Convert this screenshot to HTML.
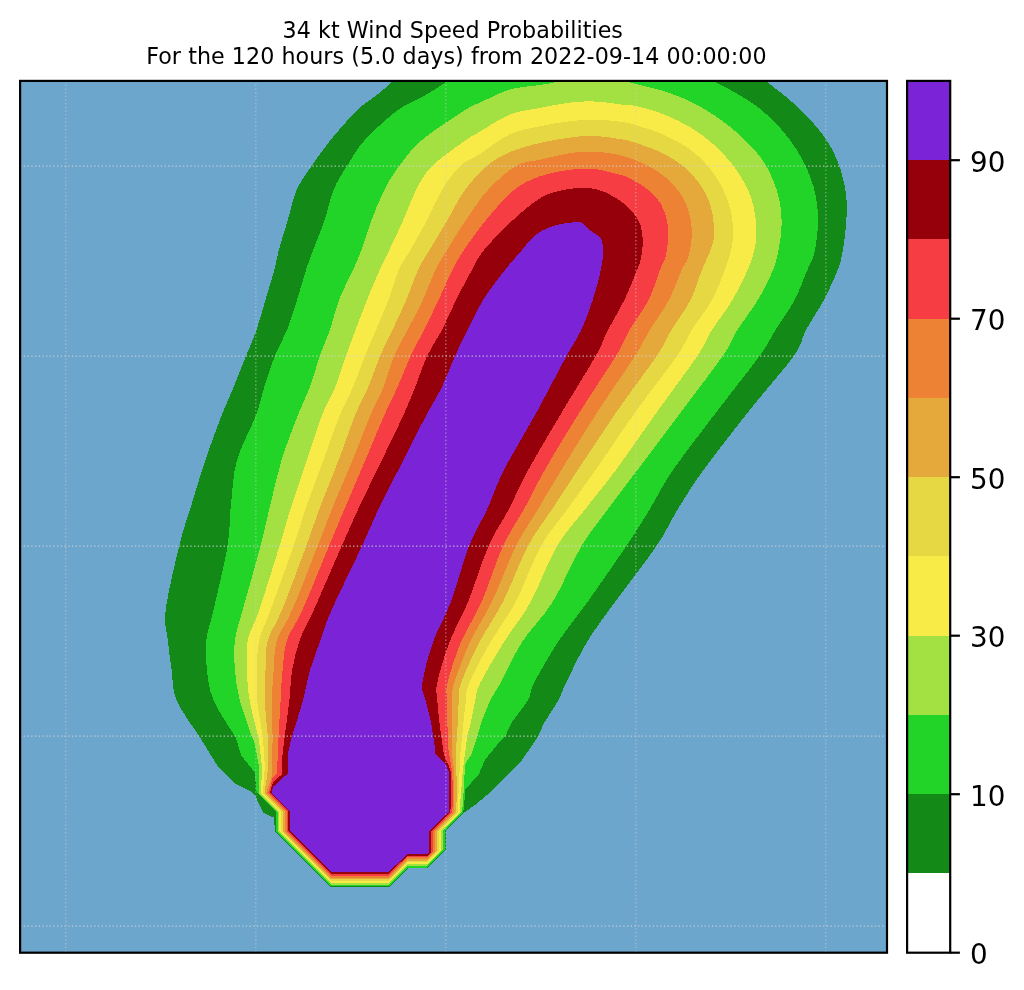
<!DOCTYPE html>
<html lang="en"><head><meta charset="utf-8"><title>34 kt Wind Speed Probabilities</title>
<style>html,body{margin:0;padding:0;background:#fff;}body{width:1024px;height:990px;overflow:hidden;position:relative;}svg{position:absolute;left:0;top:0;display:block;}text{font-family:"DejaVu Sans","Liberation Sans",sans-serif;fill:#000;}.ttl{font-size:22.22px;}.tick{font-size:27.78px;}</style></head><body>
<svg width="1024" height="990" viewBox="0 0 1024 990">
<defs><clipPath id="axclip"><rect x="20.1" y="80.9" width="866.9" height="871.8"/></clipPath></defs>
<text class="ttl" x="282.6" y="37.6" textLength="340.3" lengthAdjust="spacing">34 kt Wind Speed Probabilities</text>
<text class="ttl" x="146.2" y="64.3" textLength="620.4" lengthAdjust="spacing">For the 120 hours (5.0 days) from 2022-09-14 00:00:00</text>
<rect x="20.1" y="80.9" width="866.9" height="871.8" fill="#6ca6cd" shape-rendering="crispEdges"/>
<g clip-path="url(#axclip)" shape-rendering="crispEdges">
<path d="M464.1 812.7 L445.7 831 L445.7 849.6 L427 868.4 L407.8 868.4 L389 887.1 L330.9 887.1 L274.8 831 L274.2 817.8 L263.3 812.7 L259.2 804.6 L256.2 797.6 L255.2 795.6 L251 791.4 L235 783.4 L217 765 L199 736 L199 736 C195.2 730 181.1 711 176.5 700 C171.9 689 173 680 171.6 670 C170.2 660 168.8 650 167.8 640 C166.8 630 163.8 625.7 165.7 610 C167.6 594.3 174.9 563.7 179.2 546 C183.5 528.3 187.3 518.3 191.7 504 C196.1 489.7 200.4 474.7 205.4 460 C210.4 445.3 216.6 428.3 221.4 416 C226.2 403.7 229.9 396 234 386 C238.1 376 242.2 365.3 246 356 C249.8 346.7 253.3 339.3 256.5 330 C259.7 320.7 262.4 310 265.4 300 C268.4 290 272.1 278.3 274.3 270 C276.6 261.7 276.6 258.3 278.9 250 C281.1 241.7 284.8 230 287.8 220 C290.8 210 292.7 199 296.7 190 C300.7 181 306 174.3 311.6 166 C317.2 157.7 323 149.3 330.6 140 C338.2 130.7 349.5 117.6 357.3 110 C365.1 102.4 371.6 99.3 377.5 94.5 C383.4 89.7 389.2 84.4 393 81 C396.8 77.6 338.8 75.2 400 74 C461.2 72.8 699 72.8 760 74 C821 75.2 761.3 77 765.9 81 C770.5 85 780.9 92.4 787.7 98.2 C794.5 104 800.5 109.2 806.9 116 C813.3 122.8 821 132 826 139.3 C831 146.6 834 152.8 837 159.8 C840 166.9 842.2 174.3 843.8 181.6 C845.4 188.9 846.5 195.8 846.8 203.5 C847.1 211.2 846.4 219.8 845.7 228 C845 236.2 843.7 245.7 842.4 252.7 C841.1 259.7 840.8 262.1 837.7 270 C834.6 277.9 829.1 290 823.8 300 C818.5 310 811 320.7 806 330 C801 339.3 803.2 342.7 793.8 356 C784.4 369.3 764.8 391 749.8 410 C734.8 429 715.6 453.3 703.5 470 C691.4 486.7 685.1 497.3 677.3 510 C669.5 522.7 666.9 530.7 656.5 546 C646.1 561.3 626.6 586 615 602 C603.4 618 595.2 628.5 587 642 C578.8 655.5 570.8 673.3 566 683 C561.2 692.7 562.2 693.3 558.5 700 C554.8 706.7 546.4 719.2 544 723 L538.4 736 L520 763 L500.6 781.8 L489.7 792.7 L475 805 Z" fill="#138a17"/>
<path d="M463.2 812.7 L444.8 831 L444.8 849.8 L427.1 867.5 L407.8 867.5 L389 886.2 L330.9 886.2 L275.7 831 L275.7 811.6 L257.1 793 L256.7 792.5 L254.7 772.3 L248 764 L241 755 L236 738 L236 738 C232.2 731.7 218.3 711.3 213.5 700 C208.7 688.7 208.2 680 207 670 C205.8 660 205.3 650 206.4 640 C207.5 630 210 625.7 213.5 610 C217 594.3 224.6 563.7 227.5 546 C230.4 528.3 229.4 518.3 231 504 C232.6 489.7 232.9 474.7 237 460 C241.1 445.3 251.1 428.3 255.7 416 C260.3 403.7 261.4 396 264.6 386 C267.8 376 271 365.3 274.8 356 C278.5 346.7 283.3 339.3 287 330 C290.7 320.7 293.8 310 297 300 C300.2 290 303.3 278.3 306 270 C308.7 261.7 310.1 258.3 313.2 250 C316.3 241.7 321.2 230 324.6 220 C328 210 329.8 199 333.5 190 C337.2 181 341.8 174.3 347 166 C352.2 157.7 356.4 149.3 364.9 140 C373.4 130.7 387.9 117.4 397.9 110 C407.9 102.6 416.8 100.2 425 95.4 C433.2 90.7 441.5 85.1 447 81.5 C452.5 77.9 414.8 75.2 458 74 C501.2 72.8 663.4 72.8 706 74 C748.6 75.2 709.4 78.1 713.9 81 C718.4 83.9 726.1 87.4 733 91.4 C739.9 95.4 748.2 100 755 105 C761.8 110 768.1 115.6 774 121.5 C779.9 127.4 785.5 133.8 790.5 140.6 C795.5 147.4 800.1 154.8 804 162.5 C807.9 170.2 811.4 178.8 813.7 187 C816 195.2 817.2 203.9 817.8 211.7 C818.4 219.5 818 226.3 817.3 233.6 C816.6 240.9 815.4 249.4 813.7 255.5 C812 261.6 810.5 262.6 807.3 270 C804.1 277.4 799.9 290 794.6 300 C789.3 310 781.4 320.7 775.5 330 C769.6 339.3 769.1 342.7 759.5 356 C749.9 369.3 732.4 391 718 410 C703.6 429 684.5 453.3 673 470 C661.5 486.7 657.1 497.3 649.3 510 C641.5 522.7 636.6 530.7 626.3 546 C616 561.3 598.9 586 587.5 602 C576.1 618 566.9 628.5 558 642 C549.1 655.5 539 673.3 534 683 C529 692.7 531.7 693.5 528 700 C524.3 706.5 514.7 718.3 512 722 L505.4 736 L500.6 740.6 L484.8 760 L478.8 774.5 L465.5 789 L464 805 Z" fill="#22d427"/>
<path d="M461.3 812.7 L442.9 831 L442.9 850.1 L427.1 865.8 L407.7 865.8 L388.9 884.5 L331 884.5 L277.5 831 L277.5 811.6 L259 793 L258.7 780 L258.7 765 L254.7 743 L252 737 L252 737 C250 730.8 242.6 711.2 239.8 700 C237 688.8 235.8 680 235 670 C234.2 660 233.7 650 235 640 C236.3 630 238.4 625.7 242.7 610 C246.9 594.3 255.9 563.7 260.5 546 C265.1 528.3 267 518.3 270.5 504 C274 489.7 277.1 474.7 281.6 460 C286.1 445.3 292.8 428.3 297.6 416 C302.4 403.7 306.6 396 310.3 386 C314 376 316.4 365.3 319.7 356 C323 346.7 326.8 339.3 330 330 C333.2 320.7 335.2 310 339 300 C342.8 290 349.3 278.3 353 270 C356.7 261.7 358.3 258.3 361.4 250 C364.5 241.7 367.8 230 371.6 220 C375.4 210 379.7 199 384.3 190 C388.9 181 392.9 174.3 399.2 166 C405.5 157.7 411 149.3 422 140 C433 130.7 455.5 116.2 465.2 110 C474.9 103.8 472.5 106 480 102.6 C487.5 99.2 500 92.4 510 89.5 C520 86.6 531.9 86.3 540 85 C548.1 83.7 551.8 82.9 558.5 81.8 C565.2 80.7 571.4 79 580 78.5 C588.6 78 601.3 77.7 610 78.5 C618.7 79.3 625.9 81.7 632.4 83.2 C638.9 84.7 643.4 85.9 648.8 87.3 C654.2 88.7 657.5 88.9 664.7 91.4 C671.9 93.9 682.9 97.7 692 102.3 C701.1 106.9 711.2 113 719.4 118.8 C727.6 124.5 734.5 130.1 741.3 136.5 C748.1 142.9 755.2 149.9 760.4 157 C765.6 164.1 769.5 171.7 772.7 179 C775.9 186.3 778 193.5 779.5 200.8 C781 208.1 781.7 215.4 781.7 222.7 C781.7 230 781 236.6 779.5 244.5 C778 252.4 776.6 260.8 773 270 C769.4 279.2 763.7 290 757.8 300 C751.9 310 743.2 320.7 737.4 330 C731.5 339.3 731.9 342.7 722.7 356 C713.6 369.3 696.7 391 682.5 410 C668.3 429 649.9 453.3 637.4 470 C624.9 486.7 616.7 497.3 607.4 510 C598.1 522.7 590.6 530.7 581.5 546 C572.4 561.3 562.5 586 552.6 602 C542.7 618 530.7 628.5 522 642 C513.3 655.5 505.8 673.3 500.5 683 C495.2 692.7 493.7 693.5 490.5 700 C487.3 706.5 483 718.3 481.5 722 L477.5 736 L471.5 754 L465.5 763.6 L464 780.6 L463 805 Z" fill="#a3e142"/>
<path d="M459.5 812.6 L440.9 831.1 L440.9 850.3 L427.1 864.1 L407.7 864.1 L388.9 882.8 L331 882.8 L279.3 831.1 L279.3 811.5 L260.8 793 L261.5 780 L262.3 770 L259 740 L259 740 C257.4 733.3 251.6 711.7 249.6 700 C247.6 688.3 247.3 680 247 670 C246.7 660 245.8 650 247.8 640 C249.8 630 253.9 625.7 259.2 610 C264.5 594.3 274 563.7 279.5 546 C285 528.3 287.4 518.3 292 504 C296.6 489.7 302.1 474.7 307 460 C311.9 445.3 316.9 428.3 321.7 416 C326.5 403.7 331.7 396 335.7 386 C339.7 376 342.6 365.3 345.9 356 C349.2 346.7 352 339.3 355.5 330 C359 320.7 363 310 367 300 C371 290 376 278.3 379.7 270 C383.4 261.7 385.4 258.3 389.3 250 C393.2 241.7 398.9 230 403.3 220 C407.8 210 411.2 199 416 190 C420.8 181 423.9 174.3 432.2 166 C440.5 157.7 458 145.7 466 140 C474 134.3 472.7 135.8 480 131.6 C487.3 127.3 500 118.5 510 114.5 C520 110.5 530 109.9 540 107.9 C550 105.9 561 103.7 570 102.6 C579 101.5 585.4 101.2 594 101.5 C602.6 101.8 614.2 103.7 621.4 104.5 C628.6 105.3 630.1 104.7 637.3 106.4 C644.5 108.1 655.6 111 664.7 114.7 C673.8 118.4 683.8 123.3 692 128.3 C700.2 133.3 707.1 138.5 713.9 144.7 C720.7 150.8 727.5 158.1 733 165.2 C738.5 172.2 743.3 180.2 746.7 187 C750.1 193.8 752 199.5 753.6 206.3 C755.2 213.1 756.1 221.2 756.3 228 C756.5 234.8 756.5 240.3 755 247.3 C753.5 254.3 751.4 261.2 747.6 270 C743.8 278.8 738.3 290 732.4 300 C726.5 310 717.9 320.7 712 330 C706.1 339.3 706.2 342.7 697.3 356 C688.4 369.3 672 391 658.4 410 C644.8 429 628.2 453.3 615.9 470 C603.6 486.7 594.4 497.3 584.6 510 C574.8 522.7 566 530.7 557 546 C548 561.3 539.4 586 530.6 602 C521.8 618 512.4 628.5 504 642 C495.6 655.5 485 673.3 480.2 683 C475.4 692.7 476.8 693.5 475.3 700 C473.8 706.5 471.7 718.3 471 722 L467.3 736 L465.5 750 L463 768.5 L461 792.7 Z" fill="#f8eb48"/>
<path d="M457.7 812.6 L439 831.1 L439 850.6 L427.2 862.4 L407.6 862.4 L388.8 881 L331.1 881 L281.1 831.1 L281.1 811.5 L262.7 793 L264 780 L264.8 765 L263 738 L263 738 C262 731.7 258.2 711.3 257.2 700 C256.2 688.7 256.7 680 257 670 C257.3 660 256.9 650 259.2 640 C261.5 630 264.9 625.7 270.6 610 C276.3 594.3 287.4 563.7 293.5 546 C299.6 528.3 302.3 518.3 307.3 504 C312.3 489.7 318.1 474.7 323.5 460 C328.9 445.3 334.5 428.3 339.5 416 C344.5 403.7 349.3 396 353.5 386 C357.7 376 361.2 365.3 364.9 356 C368.6 346.7 372 339.3 375.9 330 C379.8 320.7 384.7 310 388.5 300 C392.3 290 395 278.3 398.7 270 C402.4 261.7 405.8 258.3 410.5 250 C415.2 241.7 421.8 230 427 220 C432.2 210 436.5 199 442 190 C447.5 181 453.7 172 460 166 C466.3 160 471.7 159.3 480 154 C488.3 148.7 500 138.8 510 134.2 C520 129.6 530 128.5 540 126.3 C550 124.1 561 122.3 570 121.2 C579 120.1 585.4 119.5 594 119.6 C602.6 119.7 614.2 121 621.4 122 C628.6 123 630.1 123.4 637.3 125.6 C644.5 127.8 656 131.3 664.7 135.2 C673.4 139.1 682 143.6 689.3 148.8 C696.6 154 702.9 160.2 708.4 166.6 C713.9 173 718.4 179.9 722 187 C725.6 194.1 728.5 202.2 730.3 209 C732.1 215.8 732.8 221.6 733 228 C733.2 234.4 733.1 240.3 731.7 247.3 C730.3 254.3 728 261.2 724.7 270 C721.4 278.8 717.5 290 712 300 C706.5 310 697.5 320.7 691.7 330 C685.9 339.3 686.1 342.7 677 356 C667.9 369.3 650.4 391 636.8 410 C623.2 429 607.2 453.3 595.5 470 C583.8 486.7 575.9 497.3 566.8 510 C557.7 522.7 549.5 530.7 541 546 C532.5 561.3 524 586 515.6 602 C507.2 618 498.2 628.5 490.5 642 C482.8 655.5 473.3 673.3 469.2 683 C465.1 692.7 466.9 693.5 466 700 C465.1 706.5 463.9 718.3 463.5 722 L462.2 736 L460.6 750 L459.4 774.5 Z" fill="#e6d842"/>
<path d="M455.9 812.6 L437.1 831.1 L437.1 850.9 L427.2 860.8 L407.6 860.8 L388.8 879.2 L331.1 879.2 L282.9 831.1 L282.9 811.5 L264.5 793 L266.5 780 L268.3 765 L268 738 L268 738 C267.5 731.7 265.2 711.3 264.8 700 C264.4 688.7 265 680 265.5 670 C266 660 265.2 650 268 640 C270.8 630 275.6 625.7 282 610 C288.4 594.3 299.7 563.7 306.2 546 C312.7 528.3 315.8 518.3 321.2 504 C326.7 489.7 333.1 474.7 338.7 460 C344.3 445.3 349.8 428.3 354.8 416 C359.8 403.7 364.5 396 368.7 386 C372.9 376 376.1 365.3 380 356 C383.9 346.7 388 339.3 392.4 330 C396.8 320.7 402 310 406.3 300 C410.6 290 414.1 278.3 418 270 C421.9 261.7 424.6 258.3 429.5 250 C434.4 241.7 441.6 230 447.5 220 C453.4 210 458.4 199 465 190 C471.6 181 479.3 172.3 486.8 166 C494.3 159.7 501.1 155.8 510 152 C518.9 148.2 530 145.3 540 142.9 C550 140.5 561 138.8 570 137.6 C579 136.4 585.4 135.7 594 136 C602.6 136.3 614.2 138.1 621.4 139.3 C628.6 140.5 630.5 141.1 637.3 143.4 C644.1 145.7 654.2 149 662 152.9 C669.8 156.8 677.4 161.3 683.8 166.6 C690.2 171.8 695.9 178.2 700.2 184.4 C704.5 190.6 707.5 196.7 709.8 203.5 C712.1 210.3 713.4 218.6 713.9 225.4 C714.4 232.2 714.5 237.1 712.5 244.5 C710.5 251.9 705.6 260.8 701.9 270 C698.2 279.2 695.6 290 690.5 300 C685.4 310 677 320.7 671.4 330 C665.8 339.3 665.6 342.7 656.7 356 C647.8 369.3 630.9 391 617.8 410 C604.6 429 588.8 453.3 577.8 470 C566.8 486.7 559.9 497.3 551.6 510 C543.3 522.7 536.1 530.7 528 546 C519.9 561.3 510.9 586 502.8 602 C494.7 618 486.5 628.5 479.5 642 C472.5 655.5 464.4 673.3 461 683 C457.6 692.7 459.3 693.5 458.8 700 C458.3 706.5 458 718.3 457.8 722 L457 736 L455.8 750 L457 792.7 Z" fill="#e4a93a"/>
<path d="M454 812.6 L435.2 831.1 L435.2 851.2 L427.3 859.1 L407.6 859.1 L388.8 877.5 L331.1 877.5 L284.8 831.1 L284.8 811.5 L266.3 793 L270.5 780 L271.9 775.4 L272.6 738 L272.6 738 C272.5 731.7 271.8 711.3 272 700 C272.2 688.7 272.9 680 273.7 670 C274.5 660 273.9 650 277 640 C280.1 630 285.4 625.7 292.2 610 C299 594.3 310.6 563.7 317.6 546 C324.6 528.3 328.1 518.3 334 504 C339.9 489.7 346.7 474.7 352.7 460 C358.7 445.3 364.8 428.3 370 416 C375.2 403.7 380 396 384 386 C388 376 390.1 365.3 394 356 C397.9 346.7 402.8 339.3 407.6 330 C412.4 320.7 418.2 310 422.8 300 C427.4 290 431.5 278.3 435.5 270 C439.5 261.7 441.9 258.3 447 250 C452.1 241.7 459.2 230 466 220 C472.8 210 479.7 199 488 190 C496.3 181 507.3 171.1 516 166 C524.7 160.9 531 161.8 540 159.7 C549 157.6 561.3 154.5 570 153.2 C578.7 151.8 584.3 151.4 592 151.6 C599.7 151.8 608.9 152.9 616 154.3 C623.1 155.7 627.9 157.1 634.6 159.8 C641.4 162.5 649.9 166.4 656.5 170.7 C663.1 175 669.5 180.5 674.3 185.8 C679.1 191 682.5 196.3 685.2 202 C687.9 207.7 689.7 213.8 690.7 220 C691.8 226.2 692 232.7 691.5 239 C691 245.3 689.6 252.8 688 258 C686.4 263.2 684.8 263 681.6 270 C678.4 277 674.2 290 668.9 300 C663.6 310 655.4 320.7 649.8 330 C644.1 339.3 643.5 342.7 635 356 C626.5 369.3 611 391 598.7 410 C586.4 429 571.5 453.3 561.3 470 C551.1 486.7 545.1 497.3 537.6 510 C530.1 522.7 523.6 530.7 516 546 C508.4 561.3 499.5 586 491.8 602 C484.1 618 476.3 628.5 470 642 C463.7 655.5 457.2 673.3 454.2 683 C451.2 692.7 452.6 693.5 452.2 700 C451.8 706.5 451.9 718.3 451.8 722 L452 754 L454.5 774.5 Z" fill="#ee8234"/>
<path d="M452.2 812.6 L433.3 831.1 L433.3 851.5 L427.4 857.4 L407.5 857.4 L388.7 875.8 L331.2 875.8 L286.6 831.1 L286.6 811.5 L268.2 793 L270 788 L272.4 778.4 L277 773.3 L278.5 738 L278.5 738 C278.9 731.7 279.9 711.3 280.6 700 C281.3 688.7 281.5 680 282.6 670 C283.7 660 283.7 650 287 640 C290.3 630 295.4 625.7 302.4 610 C309.4 594.3 321.6 563.7 329 546 C336.4 528.3 340.5 518.3 346.6 504 C352.7 489.7 359.2 474.7 365.4 460 C371.6 445.3 378.6 428.3 384 416 C389.4 403.7 393.6 396 398 386 C402.4 376 406.3 365.3 410.6 356 C414.9 346.7 419.4 339.3 424 330 C428.6 320.7 433.8 310 438.5 300 C443.2 290 448.2 278.3 452.5 270 C456.8 261.7 458.4 258.3 464 250 C469.6 241.7 477.7 230 486 220 C494.3 210 505 197.3 514 190 C523 182.7 530.7 179.7 540 176.3 C549.3 172.9 561 171 570 169.8 C579 168.6 586.3 168.3 594 169 C601.7 169.7 610.2 172.3 616 173.8 C621.8 175.3 623.6 175.3 629 178 C634.4 180.7 643 185.6 648.3 189.8 C653.6 194.1 657.5 198.5 660.6 203.5 C663.7 208.5 665.7 214.5 666.9 220 C668.1 225.5 668.1 230.4 668 236.3 C667.9 242.2 667.3 249.9 666 255.5 C664.7 261.1 662.9 262.6 660 270 C657.1 277.4 653.7 290 648.6 300 C643.5 310 634.9 320.7 629.5 330 C624.1 339.3 624.1 342.7 616 356 C607.9 369.3 592.9 391 581 410 C569.1 429 554.3 453.3 544.8 470 C535.2 486.7 530.6 497.3 523.6 510 C516.6 522.7 510 530.7 503 546 C496 561.3 488.6 586 481.6 602 C474.6 618 466.7 628.5 461 642 C455.3 655.5 449.8 673.3 447.5 683 C445.2 692.7 447 693.5 447 700 C447 706.5 447.2 718.3 447.3 722 L448.5 750 L452 771 L453.3 792.7 Z" fill="#f63d43"/>
<path d="M450.4 812.5 L431.3 831.2 L431.3 851.7 L427.4 855.7 L407.5 855.7 L388.7 874 L331.2 874 L288.4 831.2 L288.4 811.4 L270 793 L271.9 785.5 L273.9 781.4 L282 774.3 L282.5 755 L284.5 738 L284.5 738 C285.3 731.7 288.1 711.3 289.4 700 C290.7 688.7 290.5 680 292.2 670 C293.9 660 296.2 650 299.8 640 C303.4 630 306.8 625.7 313.8 610 C320.8 594.3 333.9 563.7 341.7 546 C349.5 528.3 353.9 518.3 360.6 504 C367.3 489.7 374.8 474.7 381.9 460 C389 445.3 397.4 428.3 403 416 C408.6 403.7 411.7 396 415.7 386 C419.7 376 422.6 365.3 427 356 C431.4 346.7 437.2 339.3 442 330 C446.8 320.7 451 310 456 300 C461 290 467.3 278.3 472 270 C476.7 261.7 477.2 258.3 484 250 C490.8 241.7 503.7 228.6 513 220 C522.3 211.4 532.4 203 540 198.2 C547.6 193.4 552.2 192.7 558.5 191 C564.8 189.3 571.3 188.3 577.7 188 C584.1 187.7 590.4 187.6 596.8 189.3 C603.2 191 610.1 194.3 616 198 C621.9 201.7 628.3 207.1 632.4 211.7 C636.5 216.3 638.9 220.4 640.6 225.4 C642.3 230.4 642.7 236.4 642.8 241.8 C642.9 247.2 642 253.3 641 258 C640 262.7 639.8 263 637 270 C634.2 277 629.2 290 624.4 300 C619.6 310 612.8 320.7 608 330 C603.2 339.3 603.2 342.7 595.7 356 C588.2 369.3 574.5 391 563.2 410 C552 429 537.3 453.3 528.2 470 C519.1 486.7 515 497.3 508.4 510 C501.8 522.7 495.2 530.7 488.5 546 C481.8 561.3 474.5 586 468 602 C461.5 618 454.6 628.5 449.5 642 C444.4 655.5 439.2 673.3 437.2 683 C435.2 692.7 436.9 693.5 437.3 700 C437.7 706.5 439 718.3 439.3 722 L442.4 744 L444 755 L448.5 765 L451.5 774.5 Z" fill="#95000a"/>
<path d="M448.5 812.5 L429.4 831.2 L429.4 852 L427.4 854 L407.4 854 L388.6 872.2 L331.3 872.2 L290.2 831.2 L290.2 811.4 L271.9 793 L272.9 787 L288 773.3 L288 753 L291.5 738 L291.5 738 C293.4 731.7 299.9 711.3 303 700 C306.1 688.7 307.1 680 310 670 C312.9 660 317 650 320.6 640 C324.2 630 324.7 625.7 331.6 610 C338.5 594.3 353.8 563.7 362 546 C370.2 528.3 374 518.3 380.9 504 C387.8 489.7 396 474.7 403.5 460 C411 445.3 419.4 428.3 425.9 416 C432.4 403.7 437.5 396 442.4 386 C447.2 376 450.8 365.3 455 356 C459.2 346.7 462.8 339.3 467.5 330 C472.2 320.7 476.8 310 483 300 C489.2 290 498.5 278.3 505 270 C511.5 261.7 517.2 255.7 522 250 C526.8 244.3 529.7 239.7 534 236 C538.3 232.3 543.1 230 547.6 228 C552.1 226 557.3 224.8 561 224 C564.7 223.2 566.8 223.2 570 222.9 C573.2 222.6 576.9 220.7 580.4 222 C583.9 223.3 587.6 228.2 591 231 C594.4 233.8 599 235.4 601 239 C603 242.6 603 247.5 603 252.7 C603 257.9 602.5 262.1 600.8 270 C599.1 277.9 596 290 592.7 300 C589.5 310 585.7 320.7 581.3 330 C576.9 339.3 573.8 342.7 566.5 356 C559.2 369.3 548.2 391 537.8 410 C527.4 429 512.5 453.3 504 470 C495.5 486.7 492.6 497.3 486.8 510 C481 522.7 475 530.7 469 546 C463 561.3 456.8 586 450.8 602 C444.8 618 437.7 628.5 433 642 C428.3 655.5 423.6 673.3 422.4 683 C421.1 692.7 424.1 693.5 425.5 700 C426.9 706.5 430.1 718.3 431 722 L435 748 L435 754 L445.5 763.6 L448.5 771 Z" fill="#7b23d7"/>
</g>
<g clip-path="url(#axclip)" stroke-width="1.4" stroke-dasharray="1.4 2.3" fill="none">
<line x1="65.8" y1="80.9" x2="65.8" y2="952.7" stroke="#d0d0d0" stroke-opacity="0.5"/>
<line x1="255.8" y1="80.9" x2="255.8" y2="952.7" stroke="#d0d0d0" stroke-opacity="0.5"/>
<line x1="445.8" y1="80.9" x2="445.8" y2="952.7" stroke="#d0d0d0" stroke-opacity="0.5"/>
<line x1="635.8" y1="80.9" x2="635.8" y2="952.7" stroke="#d0d0d0" stroke-opacity="0.5"/>
<line x1="825.8" y1="80.9" x2="825.8" y2="952.7" stroke="#d0d0d0" stroke-opacity="0.5"/>
<line x1="20.1" y1="166.1" x2="887" y2="166.1" stroke="#d2d2d2" stroke-opacity="0.8"/>
<line x1="20.1" y1="356.1" x2="887" y2="356.1" stroke="#d2d2d2" stroke-opacity="0.8"/>
<line x1="20.1" y1="546.1" x2="887" y2="546.1" stroke="#d2d2d2" stroke-opacity="0.8"/>
<line x1="20.1" y1="736.1" x2="887" y2="736.1" stroke="#d2d2d2" stroke-opacity="0.8"/>
<line x1="20.1" y1="926.1" x2="887" y2="926.1" stroke="#d2d2d2" stroke-opacity="0.8"/>
</g>
<rect x="20.1" y="80.9" width="866.9" height="871.8" fill="none" stroke="#000" stroke-width="2.2"/>
<g shape-rendering="crispEdges">
<rect x="907.1" y="80.9" width="43.1" height="871.8" fill="#7b23d7"/>
<rect x="907.1" y="160.2" width="43.1" height="792.5" fill="#95000a"/>
<rect x="907.1" y="239.4" width="43.1" height="713.3" fill="#f63d43"/>
<rect x="907.1" y="318.7" width="43.1" height="634" fill="#ee8234"/>
<rect x="907.1" y="397.9" width="43.1" height="554.8" fill="#e4a93a"/>
<rect x="907.1" y="477.2" width="43.1" height="475.5" fill="#e6d842"/>
<rect x="907.1" y="556.4" width="43.1" height="396.3" fill="#f8eb48"/>
<rect x="907.1" y="635.7" width="43.1" height="317" fill="#a3e142"/>
<rect x="907.1" y="714.9" width="43.1" height="237.8" fill="#22d427"/>
<rect x="907.1" y="794.2" width="43.1" height="158.5" fill="#138a17"/>
<rect x="907.1" y="873.4" width="43.1" height="79.3" fill="#ffffff"/>
</g>
<rect x="907.1" y="80.9" width="43.1" height="871.8" fill="none" stroke="#000" stroke-width="2.2"/>
<line x1="950.2" y1="952.7" x2="959.9" y2="952.7" stroke="#000" stroke-width="2.2"/>
<text class="tick" x="970" y="964.3">0</text>
<line x1="950.2" y1="794.2" x2="959.9" y2="794.2" stroke="#000" stroke-width="2.2"/>
<text class="tick" x="970" y="805.8">10</text>
<line x1="950.2" y1="635.7" x2="959.9" y2="635.7" stroke="#000" stroke-width="2.2"/>
<text class="tick" x="970" y="647.3">30</text>
<line x1="950.2" y1="477.2" x2="959.9" y2="477.2" stroke="#000" stroke-width="2.2"/>
<text class="tick" x="970" y="488.8">50</text>
<line x1="950.2" y1="318.7" x2="959.9" y2="318.7" stroke="#000" stroke-width="2.2"/>
<text class="tick" x="970" y="330.3">70</text>
<line x1="950.2" y1="160.2" x2="959.9" y2="160.2" stroke="#000" stroke-width="2.2"/>
<text class="tick" x="970" y="171.8">90</text>
</svg>
</body></html>
